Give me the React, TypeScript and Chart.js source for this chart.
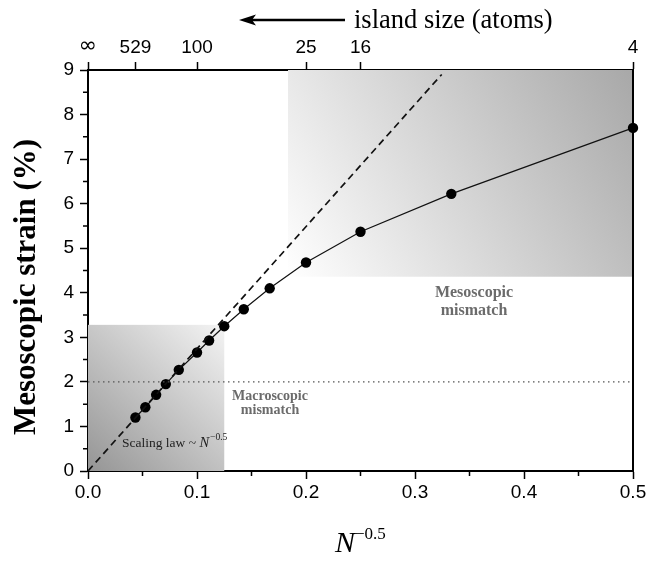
import React, { useEffect, useRef } from 'react';
import { Chart, registerables } from 'chart.js';

Chart.register(...registerables);

// ---------- data ----------
const invSqrtN = [0.0435, 0.0526, 0.0625, 0.0714, 0.0833, 0.1, 0.1111, 0.125, 0.1429, 0.1667, 0.2, 0.25, 0.3333, 0.5];
const strain = [1.2, 1.43, 1.71, 1.95, 2.27, 2.66, 2.93, 3.25, 3.63, 4.1, 4.68, 5.37, 6.22, 7.7];

const scalingLawX = [0, 0.3245];
const scalingLawY = [0, 8.9];

const macroMismatchX = [0, 0.5];
const macroMismatchY = [2, 2];

const topTickValues = [0, 0.0435, 0.1, 0.2, 0.25, 0.5];
const topTickLabels = ['\u221E', '529', '100', '25', '16', '4'];

const xMinorTicks = [0.05, 0.15, 0.25, 0.35, 0.45];
const yMinorTicks = [0.5, 1.5, 2.5, 3.5, 4.5, 5.5, 6.5, 7.5, 8.5];

const macroRegionX = [0, 0.125];
const macroRegionY = [0, 3.28];
const mesoRegionX = [0.1835, 0.5];
const mesoRegionY = [4.36, 9];

const SERIF = '"Liberation Serif", "Times New Roman", serif';
const SANS = '"Liberation Sans", Arial, sans-serif';

const decor = {
  id: 'decor',
  beforeDatasetsDraw(chart: any) {
    const { ctx, scales } = chart;
    const x = scales.x, y = scales.y;
    const box = (xs: number[], ys: number[], c0: string, c1: string) => {
      const l = x.getPixelForValue(xs[0]);
      const r = x.getPixelForValue(xs[1]);
      const b = y.getPixelForValue(ys[0]);
      const t = y.getPixelForValue(ys[1]);
      const g = ctx.createLinearGradient(l, b, r, t);
      g.addColorStop(0, c0);
      g.addColorStop(1, c1);
      ctx.save();
      ctx.fillStyle = g;
      ctx.fillRect(l, t, r - l, b - t);
      ctx.restore();
    };
    box(macroRegionX, macroRegionY, '#959595', '#f4f4f4');
    box(mesoRegionX, mesoRegionY, '#ffffff', '#a8a8a8');
  },
  afterDraw(chart: any) {
    const { ctx, chartArea, scales } = chart;
    const x = scales.x, y = scales.y;
    ctx.save();
    // right frame line
    ctx.strokeStyle = '#000';
    ctx.lineWidth = 2;
    ctx.beginPath();
    ctx.moveTo(chartArea.right, chartArea.top - 1);
    ctx.lineTo(chartArea.right, chartArea.bottom + 1);
    ctx.stroke();
    // minor ticks
    ctx.lineWidth = 1.5;
    ctx.beginPath();
    for (const v of xMinorTicks) {
      const px = x.getPixelForValue(v);
      ctx.moveTo(px, chartArea.bottom);
      ctx.lineTo(px, chartArea.bottom + 5);
    }
    for (const v of yMinorTicks) {
      const py = y.getPixelForValue(v);
      ctx.moveTo(chartArea.left, py);
      ctx.lineTo(chartArea.left - 5, py);
    }
    ctx.stroke();

    // y title
    ctx.fillStyle = '#000';
    ctx.save();
    ctx.translate(35, 287);
    ctx.rotate(-Math.PI / 2);
    ctx.font = 'bold 31px ' + SERIF;
    ctx.textAlign = 'center';
    ctx.textBaseline = 'alphabetic';
    ctx.fillText('Mesoscopic strain (%)', 0, 0);
    ctx.restore();

    // x title N^-0.5
    ctx.textAlign = 'left';
    ctx.textBaseline = 'alphabetic';
    ctx.font = 'italic 30px ' + SERIF;
    ctx.fillText('N', 335, 552);
    const nW = ctx.measureText('N').width;
    ctx.font = '17px ' + SERIF;
    ctx.fillText('\u22120.5', 335 + nW, 539);

    // top header: arrow + island size
    ctx.lineWidth = 2.5;
    ctx.beginPath();
    ctx.moveTo(252, 20);
    ctx.lineTo(345, 20);
    ctx.stroke();
    ctx.beginPath();
    ctx.moveTo(239, 20);
    ctx.lineTo(256, 14.5);
    ctx.lineTo(252, 20);
    ctx.lineTo(256, 25.5);
    ctx.closePath();
    ctx.fill();
    ctx.font = '26.5px ' + SERIF;
    ctx.fillText('island size (atoms)', 354, 28);

    // Region labels
    ctx.fillStyle = '#6b6b6b';
    ctx.textAlign = 'center';
    ctx.font = 'bold 14px ' + SERIF;
    ctx.fillText('Macroscopic', 270, 400);
    ctx.fillText('mismatch', 270, 414);
    ctx.font = 'bold 16px ' + SERIF;
    ctx.fillText('Mesoscopic', 474, 297);
    ctx.fillText('mismatch', 474, 315);

    // Scaling law label
    ctx.fillStyle = '#222';
    ctx.textAlign = 'left';
    ctx.font = '13.5px ' + SERIF;
    const s1 = 'Scaling law ~ ';
    ctx.fillText(s1, 122, 447);
    let cx = 122 + ctx.measureText(s1).width;
    ctx.font = 'italic 14.5px ' + SERIF;
    ctx.fillText('N', cx, 447);
    cx += ctx.measureText('N').width + 1;
    ctx.font = '9.5px ' + SERIF;
    ctx.fillText('\u22120.5', cx, 440);
    ctx.restore();
  },
};

export default function App() {
  const ref = useRef<HTMLCanvasElement | null>(null);
  useEffect(() => {
    if (!ref.current) return;
    const tickFont = { family: SANS, size: 19 };
    const chart = new Chart(ref.current, {
      type: 'scatter',
      data: {
        datasets: [
          {
            data: macroMismatchX.map((v, i) => ({ x: v, y: macroMismatchY[i] })),
            showLine: true,
            borderColor: '#555',
            borderWidth: 1.4,
            borderDash: [1.5, 3.5],
            pointRadius: 0,
          },
          {
            data: scalingLawX.map((v, i) => ({ x: v, y: scalingLawY[i] })),
            showLine: true,
            borderColor: '#111',
            borderWidth: 1.7,
            borderDash: [7, 4.5],
            pointRadius: 0,
          },
          {
            data: invSqrtN.map((v, i) => ({ x: v, y: strain[i] })),
            showLine: true,
            borderColor: '#111',
            borderWidth: 1.2,
            pointRadius: 5.2,
            pointBackgroundColor: '#000',
            pointBorderWidth: 0,
            clip: false,
          } as any,
        ],
      },
      options: {
        responsive: false,
        animation: false,
        devicePixelRatio: 1,
        events: [],
        layout: { padding: { left: 0, right: 16, top: 0, bottom: 0 } },
        plugins: { legend: { display: false }, tooltip: { enabled: false } },
        scales: {
          x: {
            type: 'linear',
            position: 'bottom',
            min: 0,
            max: 0.5,
            ticks: {
              stepSize: 0.1,
              callback: (v: any) => Number(v).toFixed(1),
              font: tickFont,
              color: '#000',
              padding: 2,
              maxRotation: 0,
            },
            grid: { drawOnChartArea: false, tickLength: 8, tickWidth: 1.5, tickColor: '#000' },
            border: { display: true, color: '#000', width: 2 },
            afterFit: (s: any) => { s.height = 90; },
          },
          x2: {
            type: 'linear',
            position: 'top',
            min: 0,
            max: 0.5,
            afterBuildTicks: (s: any) => { s.ticks = topTickValues.map((v) => ({ value: v })); },
            ticks: {
              autoSkip: false,
              callback: (_v: any, i: number) => topTickLabels[i],
              font: (c: any) => (c.index === 0 ? { family: 'DejaVu Sans', size: 22 } : tickFont),
              color: '#000',
              padding: 3,
              maxRotation: 0,
            },
            grid: { drawOnChartArea: false, tickLength: 8, tickWidth: 1.5, tickColor: '#000' },
            border: { display: true, color: '#000', width: 2 },
            afterFit: (s: any) => { s.height = 70; },
          },
          y: {
            type: 'linear',
            min: 0,
            max: 9,
            ticks: { stepSize: 1, font: tickFont, color: '#000', padding: 6 },
            grid: { drawOnChartArea: false, tickLength: 8, tickWidth: 1.5, tickColor: '#000' },
            border: { display: true, color: '#000', width: 2 },
            afterFit: (s: any) => { s.width = 88; },
          },
        },
      } as any,
      plugins: [decor],
    });
    return () => chart.destroy();
  }, []);
  return (
    <div style={{ position: 'fixed', left: 0, top: 0, width: 649, height: 561, background: '#fff' }}>
      <canvas ref={ref} width={649} height={561} style={{ display: 'block' }} />
    </div>
  );
}
